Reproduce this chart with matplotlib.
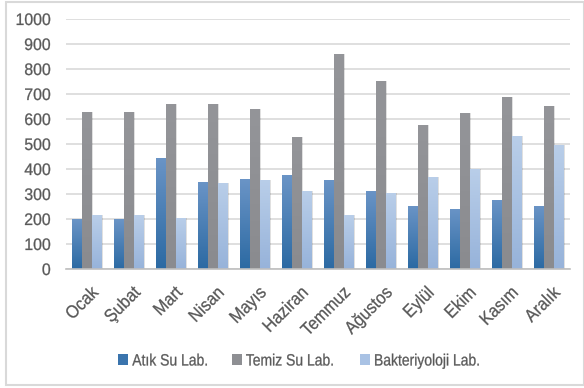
import numpy as np
import matplotlib.pyplot as plt
from matplotlib.colors import LinearSegmentedColormap
from matplotlib.patches import Rectangle
from matplotlib.patheffects import AbstractPathEffect
from matplotlib.transforms import Affine2D, ScaledTranslation

months = ["Ocak", "Şubat", "Mart", "Nisan", "Mayıs", "Haziran",
          "Temmuz", "Ağustos", "Eylül", "Ekim", "Kasım", "Aralık"]
atik_su = [200, 200, 445, 350, 360, 375, 358, 313, 253, 241, 277, 253]
temiz_su = [630, 630, 660, 660, 640, 528, 860, 753, 575, 624, 690, 654]
bakteriyoloji = [215, 215, 205, 345, 358, 313, 217, 305, 369, 401, 533, 497]
series_names = ["Atık Su Lab.", "Temiz Su Lab.", "Bakteriyoloji Lab."]
y_ticks = list(range(0, 1001, 100))

# (bottom colour, top colour) of each series' vertical gradient
gradients = [("#2c6aa3", "#6a94c6"),
             ("#8a8b8f", "#949599"),
             ("#97b3da", "#b9cee9")]
legend_colors = ["#3a74ad", "#8e8f93", "#a9c2e4"]
TEXT = "#595959"


class Narrow(AbstractPathEffect):
    """Condense glyphs along the baseline (one edge fixed) and thicken them a bit."""

    def __init__(self, sx=0.88, anchor="left", stroke=0.2):
        super().__init__()
        self.sx = sx
        self.anchor = anchor
        self.stroke = stroke

    def draw_path(self, renderer, gc, tpath, affine, rgbFace=None):
        ext = tpath.get_extents()
        if self.anchor == "right":
            x0 = ext.x1
        elif self.anchor == "center":
            x0 = 0.5 * (ext.x0 + ext.x1)
        else:
            x0 = 0.0
        t = Affine2D().translate(-x0, 0).scale(self.sx, 1).translate(x0, 0) + affine
        gc0 = renderer.new_gc()
        gc0.copy_properties(gc)
        if rgbFace is not None:
            gc0.set_foreground(rgbFace)
        gc0.set_linewidth(self.stroke)
        renderer.draw_path(gc0, tpath, t, rgbFace)
        gc0.restore()


plt.rcParams['font.family'] = ['Liberation Sans', 'DejaVu Sans']

W, H = 584, 388
fig = plt.figure(figsize=(W / 100, H / 100), dpi=100)
ax = fig.add_axes([66 / W, 1 - 269 / H, 504 / W, 250 / H])

# light frame around the whole chart
fig.patches.append(Rectangle((5.5 / W, 3 / H), 578 / W, 383 / H,
                             transform=fig.transFigure, fill=False,
                             edgecolor="#d9d9d9", linewidth=1.5))

x = np.arange(len(months))
width = 0.235
data = [atik_su, temiz_su, bakteriyoloji]
grad = np.linspace(0, 1, 64).reshape(-1, 1)

for i, (vals, (c0, c1)) in enumerate(zip(data, gradients)):
    offs = (i - 1) * width
    # soft shadow to the right of each bar
    ax.bar(x + offs + 0.035, vals, width, color="#000000", alpha=0.12,
           zorder=2, linewidth=0)
    bars = ax.bar(x + offs, vals, width, color=legend_colors[i],
                  label=series_names[i], zorder=3, linewidth=0)
    cmap = LinearSegmentedColormap.from_list(f"g{i}", [c0, c1])
    for b in bars:
        x0, y0 = b.get_x(), b.get_y()
        w, h = b.get_width(), b.get_height()
        im = ax.imshow(grad, extent=(x0, x0 + w, y0, y0 + h), origin="lower",
                       cmap=cmap, aspect="auto", zorder=4)
        im.set_clip_path(b)

ax.set_xlim(-0.5, len(months) - 0.5)
ax.set_ylim(0, 1000)
ax.set_yticks(y_ticks)
ax.grid(axis="y", color="#d9d9d9", linewidth=1.2, zorder=0)
ax.set_axisbelow(True)
for s in ["top", "right", "left"]:
    ax.spines[s].set_visible(False)
ax.spines["bottom"].set_color("#bfbfbf")
ax.spines["bottom"].set_linewidth(1.2)
ax.spines["bottom"].set_zorder(5)

ax.set_xticks(x)
ax.set_xticklabels(months, rotation=45, ha="right", rotation_mode="anchor",
                   fontsize=13, color=TEXT)
ax.tick_params(axis="both", length=0)
ax.tick_params(axis="x", pad=11)
ax.tick_params(axis="y", labelsize=12, labelcolor=TEXT, pad=11)

shift = ScaledTranslation(3 / 100, 0, fig.dpi_scale_trans)
for lab in ax.get_xticklabels():
    lab.set_path_effects([Narrow(0.9, "right")])
    lab.set_transform(lab.get_transform() + shift)
for lab in ax.get_yticklabels():
    lab.set_path_effects([Narrow(0.95, "right")])

handles, labels = ax.get_legend_handles_labels()
leg = fig.legend(handles, labels, loc="center left",
                 bbox_to_anchor=(118 / W, 1 - 361 / H),
                 ncol=3, frameon=False, fontsize=11.8, labelcolor=TEXT,
                 borderpad=0, borderaxespad=0,
                 handlelength=0.62, handleheight=0.62, handletextpad=0.25,
                 columnspacing=0.62)
for t in leg.get_texts():
    t.set_path_effects([Narrow(0.85, "left")])

fig.savefig("out.png", dpi=100)
